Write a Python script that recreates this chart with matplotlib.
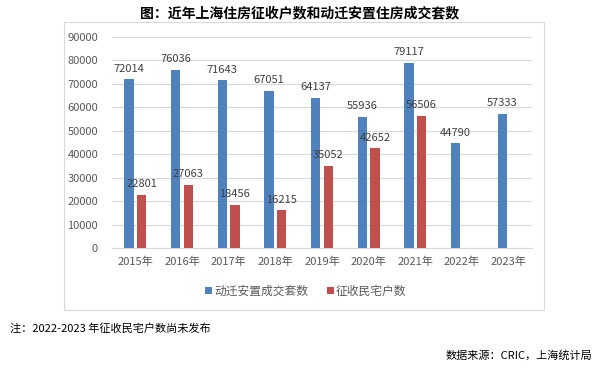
import matplotlib
matplotlib.use("Agg")
import matplotlib.pyplot as plt
import numpy as np
from matplotlib.patches import Rectangle

#### Data ####
years = ["2015年", "2016年", "2017年", "2018年", "2019年", "2020年", "2021年", "2022年", "2023年"]
resettle_deals = [72014, 76036, 71643, 67051, 64137, 55936, 79117, 44790, 57333]
expropriated_households = [22801, 27063, 18456, 16215, 35052, 42652, 56506]  # 2022-2023 not published
series_names = ["动迁安置成交套数", "征收民宅户数"]

title = "图：近年上海住房征收户数和动迁安置住房成交套数"
note = "注：2022-2023 年征收民宅户数尚未发布"
source = "数据来源：CRIC，上海统计局"

plt.rcParams["font.family"] = ["Noto Sans CJK SC", "DejaVu Sans"]

BLUE = "#4F81BD"
RED = "#C0504D"
GREY = "#595959"

fig = plt.figure(figsize=(5.99, 3.68), dpi=100)
W, H = 599, 368

# chart frame
fig.patches.append(Rectangle((64 / W, 1 - 310 / H), (544 - 64) / W, (310 - 22) / H,
                             transform=fig.transFigure, fill=False,
                             edgecolor="#D9D9D9", linewidth=0.8))

ax = fig.add_axes([112 / W, 1 - 248 / H, (532 - 112) / W, (248 - 37) / H])

x = np.arange(len(years))
bw = 0.2
off = 0.135
b1 = ax.bar(x - off, resettle_deals, bw, color=BLUE, label=series_names[0], zorder=3)
x2 = x[:len(expropriated_households)]
b2 = ax.bar(x2 + off, expropriated_households, bw, color=RED, label=series_names[1], zorder=3)

# value labels above bars
for xi, v in zip(x - off, resettle_deals):
    ax.text(xi, v + 2300, str(v), ha="center", va="bottom", fontsize=8, color="#404040")
for xi, v in zip(x2 + off, expropriated_households):
    ax.text(xi, v + 2300, str(v), ha="center", va="bottom", fontsize=8, color="#404040")

ax.set_xlim(-0.5, len(years) - 0.5)
ax.set_ylim(0, 90000)
ax.set_yticks(np.arange(0, 90001, 10000))
ax.set_xticks(x)
ax.set_xticklabels(years)
ax.tick_params(axis="both", length=0, labelsize=8, colors=GREY)
ax.tick_params(axis="y", pad=10)
ax.tick_params(axis="x", pad=6)
ax.grid(axis="y", color="#D9D9D9", linewidth=0.8, zorder=0)
for s in ["top", "right", "left"]:
    ax.spines[s].set_visible(False)
ax.spines["bottom"].set_color("#D9D9D9")

fig.legend(handles=[b1, b2], loc="center", bbox_to_anchor=(306 / W, 1 - 291 / H),
           ncol=2, frameon=False, fontsize=8.5, handlelength=0.55, handleheight=0.55,
           handletextpad=0.2, columnspacing=1.6, labelcolor=GREY)

fig.text(300 / W, 1 - 13 / H, title, ha="center", va="center", fontsize=10, fontweight="bold")
fig.text(10 / W, 1 - 328 / H, note, ha="left", va="center", fontsize=8)
fig.text(592 / W, 1 - 355 / H, source, ha="right", va="center", fontsize=8)

fig.savefig("out.png", dpi=100)
